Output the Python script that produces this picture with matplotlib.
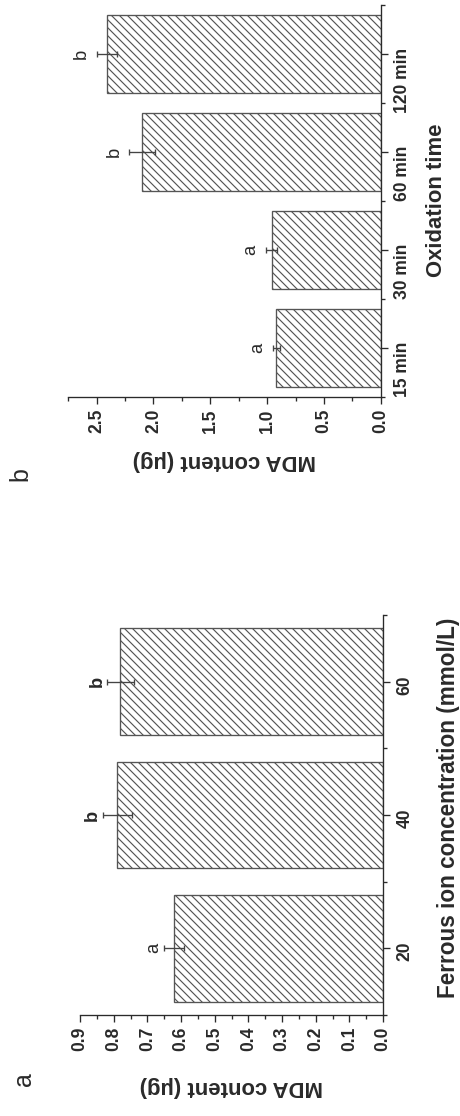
import matplotlib
matplotlib.use('Agg')
import matplotlib.pyplot as plt
from matplotlib.ticker import FormatStrFormatter, MultipleLocator, FixedLocator

plt.rcParams['font.family'] = ['Liberation Sans', 'DejaVu Sans']
plt.rcParams['font.weight'] = 'bold'
plt.rcParams['axes.labelweight'] = 'bold'
plt.rcParams['hatch.linewidth'] = 0.7
plt.rcParams['hatch.color'] = '#555555'

# (a) MDA vs ferrous ion concentration
fe_conc = [20, 40, 60]
fe_mda = [0.62, 0.79, 0.78]
fe_err = [0.03, 0.043, 0.04]
fe_letters = ['a', 'b', 'b']

# (b) MDA vs oxidation time
ox_labels = ['15 min', '30 min', '60 min', '120 min']
ox_mda = [0.92, 0.96, 2.10, 2.41]
ox_err = [0.03, 0.05, 0.115, 0.09]
ox_letters = ['a', 'a', 'b', 'b']

INK = '#2a2a2a'
EDGE = '#555555'

fig = plt.figure(figsize=(460 / 120, 1116 / 120), dpi=120)
ax_b = fig.add_axes([0.148, 0.6443, 0.680, 0.3513])
ax_a = fig.add_axes([0.174, 0.0905, 0.659, 0.3584])


def style_axes(ax):
    ax.spines['top'].set_visible(False)
    ax.spines['left'].set_visible(False)
    for s in ('bottom', 'right'):
        ax.spines[s].set_color(INK)
        ax.spines[s].set_linewidth(0.8)
    ax.yaxis.tick_right()
    ax.yaxis.set_label_position('right')
    ax.tick_params(which='both', direction='out', color=INK, width=0.8,
                   labelcolor=INK, labelsize=10.5, labelrotation=90)
    ax.tick_params(which='major', length=4)
    ax.tick_params(which='minor', length=2.5)
    ax.tick_params(axis='x', pad=3)
    ax.tick_params(axis='y', pad=4)
    ax.xaxis.set_major_formatter(FormatStrFormatter('%.1f'))


def draw_bars(ax, pos, vals, errs, width):
    ax.barh(pos, vals, height=width, color='white', edgecolor=EDGE,
            linewidth=0.8, hatch='\\' * 5, xerr=errs,
            error_kw=dict(ecolor='#444444', elinewidth=0.8, capsize=2, capthick=0.8))


# panel a
draw_bars(ax_a, fe_conc, fe_mda, fe_err, 16)
style_axes(ax_a)
ax_a.set_xlim(0.9, 0)
ax_a.set_ylim(10, 70)
ax_a.xaxis.set_major_locator(MultipleLocator(0.1))
ax_a.xaxis.set_minor_locator(MultipleLocator(0.05))
ax_a.set_yticks(fe_conc)
ax_a.yaxis.set_minor_locator(FixedLocator([10, 30, 50, 70]))
for c, v, e, t in zip(fe_conc, fe_mda, fe_err, fe_letters):
    ax_a.text(v + e + 0.03, c, t, rotation=90, ha='center', va='center',
              fontsize=11, color=INK, fontweight='bold' if t == 'b' else 'normal')
ax_a.set_xlabel('MDA content (μg)', rotation=180, fontsize=13.3, color=INK,
                ha='center', va='center')
ax_a.xaxis.set_label_coords(0.5, -0.18)
ax_a.set_ylabel('Ferrous ion concentration (mmol/L)', rotation=90, fontsize=13.5,
                color=INK, ha='center', va='center')
ax_a.yaxis.set_label_coords(1.2145, 0.5175)

# panel b
ox_pos = list(range(len(ox_labels)))
draw_bars(ax_b, ox_pos, ox_mda, ox_err, 0.8)
style_axes(ax_b)
ax_b.set_xlim(2.75, 0)
ax_b.set_ylim(-0.5, 3.5)
ax_b.xaxis.set_major_locator(MultipleLocator(0.5))
ax_b.xaxis.set_minor_locator(MultipleLocator(0.25))
ax_b.set_yticks(ox_pos, ox_labels)
ax_b.yaxis.set_minor_locator(FixedLocator([-0.5, 0.5, 1.5, 2.5, 3.5]))
for p, v, e, t in zip(ox_pos, ox_mda, ox_err, ox_letters):
    ax_b.text(v + e + 0.13, p, t, rotation=90, ha='center', va='center',
              fontsize=11, color=INK, fontweight='normal')
ax_b.set_xlabel('MDA content (μg)', rotation=180, fontsize=13.3, color=INK,
                ha='center', va='center')
ax_b.xaxis.set_label_coords(0.5, -0.161)
ax_b.set_ylabel('Oxidation time', rotation=90, fontsize=13.3, color=INK,
                ha='center', va='center')
ax_b.yaxis.set_label_coords(1.179, 0.5026)

# panel letters
fig.text(24 / 460, 1 - 1079 / 1116, 'a', rotation=90, ha='center', va='center',
         fontsize=15, fontweight='normal', color=INK)
fig.text(20 / 460, 1 - 474 / 1116, 'b', rotation=90, ha='center', va='center',
         fontsize=15, fontweight='normal', color=INK)

fig.savefig('out.png', dpi=120)
